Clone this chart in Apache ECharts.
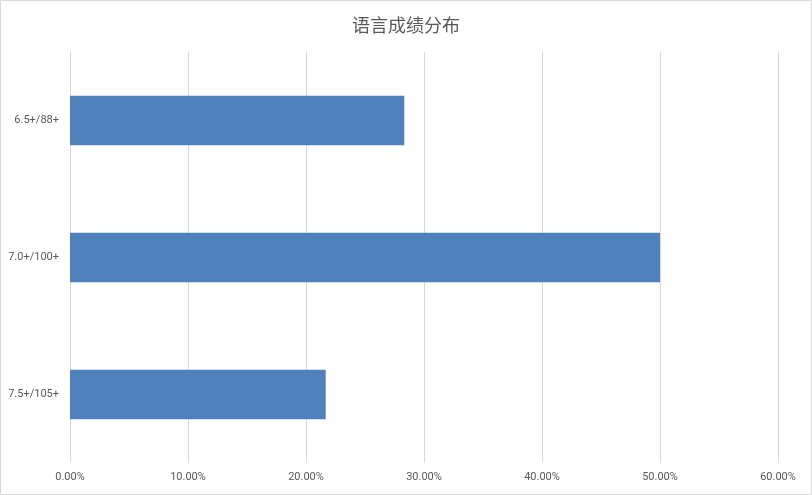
<!DOCTYPE html>
<html>
<head>
<meta charset="utf-8">
<script src="https://cdn.jsdelivr.net/npm/echarts@6/dist/echarts.min.js"></script>
<style>
html,body{margin:0;padding:0;background:#fff;}
#chart{width:812px;height:495px;}
</style>
</head>
<body>
<div id="chart"></div>
<script>
const categories = ['6.5+/88+', '7.0+/100+', '7.5+/105+'];
const values = [0.2833, 0.5, 0.2167];
const titleText = '语言成绩分布';

const chart = echarts.init(document.getElementById('chart'), null, {renderer: 'canvas'});
chart.setOption({
  backgroundColor: '#fff',
  animation: false,
  graphic: [{
    type: 'rect',
    shape: {x: 0.5, y: 0.5, width: 811, height: 494},
    style: {fill: 'none', stroke: '#d9d9d9', lineWidth: 1},
    silent: true
  }],
  title: {
    text: titleText,
    left: 'center',
    top: 11,
    textStyle: {fontFamily: 'Noto Sans CJK SC', fontSize: 18, fontWeight: 'normal', color: '#595959'}
  },
  grid: {left: 70, right: 34, top: 52, bottom: 32, containLabel: false},
  xAxis: {
    type: 'value',
    min: 0, max: 0.6, interval: 0.1,
    axisLine: {show: false},
    axisTick: {show: false},
    splitLine: {show: true, lineStyle: {color: '#d9d9d9', width: 1}},
    axisLabel: {
      formatter: v => (v * 100).toFixed(2) + '%',
      color: '#595959', fontSize: 11, fontFamily: 'Roboto', margin: 9
    }
  },
  yAxis: {
    type: 'category',
    data: categories,
    inverse: true,
    axisLine: {show: false},
    axisTick: {show: false},
    splitLine: {show: false},
    axisLabel: {color: '#595959', fontSize: 11, fontFamily: 'Roboto', margin: 11}
  },
  series: [{
    type: 'bar',
    data: values,
    barCategoryGap: '64%',
    itemStyle: {color: '#4f81bd'}
  }]
});
</script>
</body>
</html>
